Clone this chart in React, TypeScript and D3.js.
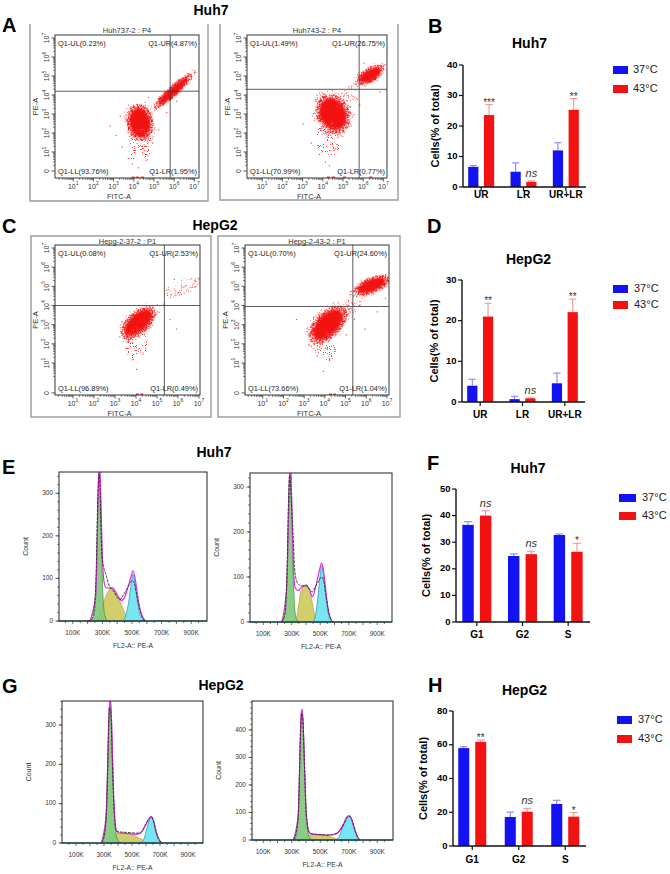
import React from 'react'
import * as d3 from 'd3'

const FONT = "Arial, 'Liberation Sans', Helvetica, sans-serif"
const BLUE = '#1212f2'
const RED = '#f21212'
const BLUE_ERR = '#7a7af5'
const RED_ERR = '#f58a8a'

// bar charts (percent of total cells, mean and upper SD)
const temps = ['37°C', '43°C']
const apoCats = ['UR', 'LR', 'UR+LR']
const cycleCats = ['G1', 'G2', 'S']

const huh7Apo37 = [6.6, 5.0, 12.0]
const huh7Apo37Err = [0.4, 2.9, 2.5]
const huh7Apo43 = [23.6, 1.7, 25.3]
const huh7Apo43Err = [3.4, 0.3, 3.7]
const huh7ApoMarks = ['***', 'ns', '**']

const hepApo37 = [4.0, 0.7, 4.6]
const hepApo37Err = [1.6, 0.7, 2.5]
const hepApo43 = [21.0, 0.9, 22.1]
const hepApo43Err = [3.3, 0.1, 3.2]
const hepApoMarks = ['**', 'ns', '**']

const huh7Cyc37 = [36.5, 24.8, 32.7]
const huh7Cyc37Err = [1.2, 0.8, 0.4]
const huh7Cyc43 = [40.0, 25.5, 26.4]
const huh7Cyc43Err = [1.8, 1.1, 3.2]
const huh7CycMarks = ['ns', 'ns', '*']

const hepCyc37 = [58.0, 17.2, 24.9]
const hepCyc37Err = [0.8, 2.9, 2.2]
const hepCyc43 = [61.7, 20.3, 17.4]
const hepCyc43Err = [1.1, 2.0, 2.4]
const hepCycMarks = ['**', 'ns', '*']

// flow cytometry: quadrant percentages UL, UR, LL, LR
const huh7FlowTitles = ['Huh737-2 : P4', 'Huh743-2 : P4']
const huh7Quad37 = ['0.23', '4.87', '93.76', '1.95']
const huh7Quad43 = ['1.49', '26.75', '70.99', '0.77']
const hepFlowTitles = ['Hepg-2-37-2 : P1', 'Hepg-2-43-2 : P1']
const hepQuad37 = ['0.08', '2.53', '96.89', '0.49']
const hepQuad43 = ['0.70', '24.60', '73.66', '1.04']

// event clouds in decades: [fitc, pe, spreadX, spreadY, tilt, density]
const huh7Cloud37 = [
  [4.3, 2.55, 0.6, 0.9, -10, 1],
  [5.95, 4.2, 1.15, 0.25, -42, 0.75],
  [4.3, 1.3, 0.45, 0.7, 0, 0.3],
]
const huh7Cloud43 = [
  [4.5, 3.0, 0.75, 1.0, -25, 1],
  [6.35, 5.05, 0.7, 0.35, -30, 0.95],
  [5.4, 4.0, 0.7, 0.3, -45, 0.3],
  [4.3, 1.7, 0.45, 0.7, 0, 0.3],
]
const hepCloud37 = [
  [4.1, 3.1, 0.95, 0.52, -42, 1],
  [6.2, 4.95, 0.75, 0.3, -25, 0.35],
  [4.0, 2.0, 0.4, 0.7, 0, 0.3],
]
const hepCloud43 = [
  [4.15, 3.0, 1.05, 0.62, -45, 1],
  [6.25, 5.05, 0.85, 0.37, -22, 1],
  [5.3, 4.0, 0.6, 0.3, -40, 0.35],
  [4.0, 1.8, 0.4, 0.6, 0, 0.3],
]
// scattered single events
const huh7Dots37 = [[2.8, 2.4], [3.1, 1.9], [3.4, 1.3], [3.7, 0.7], [3.9, 0.4], [4.6, 0.9], [4.9, 1.5], [5.2, 2.2], [5.6, 3.1], [6.1, 3.7], [3.3, 2.9], [4.2, 0.2], [7.0, 5.3], [4.7, 3.9]]
const huh7Dots43 = [[3.0, 2.5], [3.4, 1.5], [3.8, 0.9], [4.1, 0.5], [4.6, 1.2], [5.0, 2.1], [5.5, 3.0], [5.8, 3.5], [5.6, 4.3], [6.8, 4.2], [7.0, 5.6], [3.6, 3.7], [4.3, 0.3], [6.0, 5.7]]
const hepDots37 = [[3.2, 2.4], [3.5, 1.8], [3.8, 1.2], [4.0, 0.7], [4.3, 1.5], [5.0, 3.7], [5.3, 4.1], [5.6, 3.3], [5.9, 2.8], [6.8, 5.3], [5.8, 5.4], [3.3, 3.2]]
const hepDots43 = [[2.6, 3.3], [3.2, 2.0], [3.6, 1.4], [3.9, 0.6], [4.2, 1.2], [5.0, 2.5], [5.4, 3.3], [5.9, 2.8], [6.5, 3.7], [6.9, 4.4], [7.0, 5.5], [5.2, 4.6]]

// DNA content histograms: [FL2-A in K, count]
const huh7G1_37 = [[215, 0], [240, 10], [255, 60], [265, 170], [272, 300], [280, 370], [288, 300], [296, 150], [305, 50], [318, 12], [335, 0]]
const huh7S_37 = [[255, 0], [290, 25], [320, 55], [350, 75], [370, 78], [395, 65], [420, 45], [450, 20], [480, 5], [500, 0]]
const huh7G2_37 = [[440, 0], [460, 15], [480, 50], [495, 90], [507, 110], [520, 90], [535, 50], [550, 20], [570, 5], [585, 0]]
const huh7Fit37 = [[215, 0], [255, 62], [272, 305], [280, 372], [290, 280], [300, 150], [312, 90], [325, 78], [345, 77], [365, 78], [390, 68], [410, 56], [430, 48], [450, 56], [470, 76], [490, 100], [507, 118], [525, 92], [540, 55], [560, 20], [580, 5], [590, 0]]
const huh7Raw37 = [[200, 0], [225, 3], [245, 30], [258, 120], [268, 280], [276, 345], [283, 320], [290, 220], [298, 150], [310, 125], [325, 108], [340, 88], [360, 76], [380, 68], [400, 55], [420, 50], [440, 60], [460, 72], [480, 85], [500, 95], [515, 90], [530, 65], [550, 30], [570, 8], [590, 0]]

const huh7G1_43 = [[230, 0], [250, 15], [265, 80], [278, 230], [287, 340], [295, 340], [303, 220], [312, 90], [322, 25], [335, 5], [350, 0]]
const huh7S_43 = [[330, 0], [345, 30], [360, 62], [380, 78], [400, 82], [420, 75], [440, 50], [455, 25], [470, 5], [480, 0]]
const huh7G2_43 = [[450, 0], [470, 20], [485, 60], [500, 105], [510, 125], [522, 105], [538, 60], [555, 20], [570, 5], [585, 0]]
const huh7Fit43 = [[230, 0], [265, 80], [287, 345], [300, 260], [312, 120], [325, 75], [345, 70], [370, 78], [400, 82], [425, 72], [445, 56], [462, 70], [480, 95], [498, 120], [510, 131], [525, 110], [542, 60], [560, 20], [585, 0]]
const huh7Raw43 = [[225, 0], [250, 15], [265, 90], [278, 280], [285, 325], [292, 300], [300, 250], [310, 190], [320, 120], [335, 90], [355, 82], [380, 80], [405, 80], [425, 72], [445, 67], [465, 78], [490, 92], [510, 100], [525, 90], [540, 60], [555, 30], [570, 10], [590, 0]]

const hepG1_37 = [[280, 0], [300, 15], [315, 70], [328, 220], [338, 340], [345, 365], [352, 330], [360, 220], [370, 100], [382, 35], [395, 10], [420, 0]]
const hepS_37 = [[330, 0], [360, 18], [390, 24], [430, 25], [470, 24], [510, 20], [550, 13], [590, 5], [620, 0]]
const hepG2_37 = [[560, 0], [585, 10], [605, 35], [625, 60], [637, 66], [650, 58], [668, 30], [690, 8], [710, 0]]
const hepFit37 = [[280, 0], [315, 70], [338, 345], [345, 368], [355, 300], [370, 110], [385, 35], [400, 26], [440, 25], [480, 24], [520, 22], [560, 25], [590, 40], [615, 58], [637, 68], [655, 55], [675, 25], [700, 5], [715, 0]]
const hepRaw37 = [[285, 0], [310, 40], [325, 160], [333, 300], [340, 345], [350, 320], [360, 200], [375, 70], [390, 30], [420, 28], [460, 27], [500, 26], [540, 25], [570, 30], [600, 50], [625, 62], [640, 66], [655, 55], [675, 25], [700, 5], [715, 0]]

const hepG1_43 = [[310, 0], [330, 15], [345, 90], [358, 300], [366, 450], [372, 473], [380, 420], [390, 250], [400, 100], [412, 35], [425, 10], [445, 0]]
const hepS_43 = [[360, 0], [400, 12], [430, 18], [470, 19], [510, 18], [550, 15], [590, 8], [620, 3], [640, 0]]
const hepG2_43 = [[610, 0], [635, 15], [660, 50], [685, 80], [702, 87], [720, 75], [740, 40], [760, 12], [780, 0]]
const hepFit43 = [[310, 0], [345, 90], [366, 455], [373, 476], [385, 350], [400, 110], [415, 40], [430, 22], [470, 20], [520, 18], [560, 18], [600, 20], [630, 30], [660, 55], [685, 82], [702, 89], [720, 75], [740, 40], [760, 12], [780, 0]]
const hepRaw43 = [[315, 0], [345, 80], [362, 400], [370, 460], [378, 440], [390, 260], [405, 80], [420, 30], [450, 22], [500, 20], [550, 18], [600, 22], [640, 35], [670, 62], [695, 84], [710, 85], [725, 70], [745, 35], [765, 8], [780, 0]]

const histTickLabels = [100, 300, 500, 700, 900]

type Box = { l: number; r: number; t: number; b: number }

function Sup({ x, y, exp, rotate }: { x: number; y: number; exp: number | string; rotate?: boolean }) {
  return (
    <text
      x={x}
      y={y}
      fontSize={7}
      fill="#333"
      textAnchor="middle"
      transform={rotate ? `rotate(-90 ${x} ${y})` : undefined}
      dominantBaseline="middle"
    >
      10
      <tspan fontSize={5} dy={-3}>
        {exp}
      </tspan>
    </text>
  )
}

function FlowPlot(props: {
  id: string
  frame: Box
  fullFrame: boolean
  box: Box
  xr: [number, number]
  yr: [number, number]
  zeroDec: number
  gate: [number, number]
  title: string
  quad: string[]
  clouds: number[][]
  dots: number[][]
  rug: number[]
}) {
  const { id, frame, fullFrame, box, xr, yr, zeroDec, gate, title, quad, clouds, dots, rug } = props
  const x = d3.scaleLinear().domain([0, 7]).range(xr)
  const y = d3.scaleLinear().domain([0, 7]).range(yr)
  const sx = (xr[1] - xr[0]) / 7
  const sy = (yr[0] - yr[1]) / 7
  const minor: number[] = []
  for (let d = 0; d < 7; d++) for (let m = 2; m <= 9; m++) minor.push(d + Math.log10(m))
  const decs = d3.range(1, 8)
  const qy = (box.t + box.b) / 2
  const cx = (box.l + box.r) / 2
  return (
    <g fontFamily={FONT}>
      <defs>
        <clipPath id={`clip-${id}`}>
          <rect x={box.l} y={box.t} width={box.r - box.l} height={box.b - box.t} />
        </clipPath>
      </defs>
      {fullFrame ? (
        <rect x={frame.l} y={frame.t} width={frame.r - frame.l} height={frame.b - frame.t} fill="none" stroke="#9a9a9a" strokeWidth={1.4} />
      ) : (
        <path d={`M${frame.l},${frame.t}V${frame.b}H${frame.r}V${frame.t}`} fill="none" stroke="#9a9a9a" strokeWidth={1.4} />
      )}
      <text x={cx} y={frame.t + (fullFrame ? 8 : 9)} fontSize={7.5} fill="#333" textAnchor="middle">
        {title}
      </text>
      <g clipPath={`url(#clip-${id})`}>
        {clouds.map((c, i) => {
          const px = x(c[0])
          const py = y(c[1])
          const rx = c[2] * sx
          const ry = c[3] * sy
          const tr = `rotate(${c[4]} ${px} ${py})`
          return (
            <g key={i} transform={tr}>
              <ellipse cx={px} cy={py} rx={rx * 1.35} ry={ry * 1.35} fill={RED} filter="url(#grainSparse)" />
              {c[5] >= 0.4 && <ellipse cx={px} cy={py} rx={rx * 1.1} ry={ry * 1.1} fill={RED} filter="url(#grain)" />}
              {c[5] >= 0.7 && <ellipse cx={px} cy={py} rx={rx * 0.85} ry={ry * 0.85} fill={RED} filter="url(#soft)" />}
            </g>
          )
        })}
        {dots.map((d, i) => (
          <rect key={i} x={x(d[0])} y={y(d[1])} width={1.2} height={1.2} fill="#ff4a4a" />
        ))}
        {rug.map((r, i) => (
          <rect key={i} x={x(r)} y={box.b - 1.5} width={3} height={1.5} fill={RED} opacity={0.8} />
        ))}
      </g>
      <rect x={box.l} y={box.t} width={box.r - box.l} height={box.b - box.t} fill="none" stroke="#222" strokeWidth={0.9} />
      <line x1={x(gate[0])} x2={x(gate[0])} y1={box.t} y2={box.b} stroke="#333" strokeWidth={0.8} />
      <line x1={box.l} x2={box.r} y1={y(gate[1])} y2={y(gate[1])} stroke="#333" strokeWidth={0.8} />
      {minor.filter(d => x(d) > box.l && x(d) < box.r).map((d, i) => (
        <line key={`mx${i}`} x1={x(d)} x2={x(d)} y1={box.b} y2={box.b + 2} stroke="#333" strokeWidth={0.6} />
      ))}
      {decs.map(d => (
        <line key={`Mx${d}`} x1={x(d)} x2={x(d)} y1={box.b} y2={box.b + 3.5} stroke="#333" strokeWidth={0.8} />
      ))}
      {minor.filter(d => y(d) < box.b && y(d) > box.t).map((d, i) => (
        <line key={`my${i}`} x1={box.l - 2} x2={box.l} y1={y(d)} y2={y(d)} stroke="#333" strokeWidth={0.6} />
      ))}
      {[zeroDec, ...decs].map(d => (
        <line key={`My${d}`} x1={box.l - 3.5} x2={box.l} y1={y(d)} y2={y(d)} stroke="#333" strokeWidth={0.8} />
      ))}
      {decs.map(d => (
        <Sup key={`lx${d}`} x={x(d)} y={box.b + 9} exp={d} />
      ))}
      {decs.map(d => (
        <Sup key={`ly${d}`} x={box.l - 7.5} y={y(d)} exp={d} rotate />
      ))}
      <text x={box.l - 7.5} y={y(zeroDec)} fontSize={7} fill="#333" textAnchor="middle" dominantBaseline="middle" transform={`rotate(-90 ${box.l - 7.5} ${y(zeroDec)})`}>
        0
      </text>
      <text x={cx - 8} y={box.b + 21} fontSize={7.5} fill="#333" textAnchor="middle">
        FITC-A
      </text>
      <text x={box.l - 17} y={qy} fontSize={7.5} fill="#333" textAnchor="middle" transform={`rotate(-90 ${box.l - 17} ${qy})`}>
        PE-A
      </text>
      <g fontSize={7.4} fill="#222">
        <text x={box.l + 3} y={box.t + 11}>{`Q1-UL(${quad[0]}%)`}</text>
        <text x={box.r - 2} y={box.t + 11} textAnchor="end">{`Q1-UR(${quad[1]}%)`}</text>
        <text x={box.l + 3} y={box.b - 4}>{`Q1-LL(${quad[2]}%)`}</text>
        <text x={box.r - 2} y={box.b - 4} textAnchor="end">{`Q1-LR(${quad[3]}%)`}</text>
      </g>
    </g>
  )
}

function HistPlot(props: {
  id: string
  box: Box
  xr: [number, number]
  yMax: number
  yTicks: number[]
  g1: number[][]
  s: number[][]
  g2: number[][]
  fit: number[][]
  raw: number[][]
}) {
  const { id, box, xr, yMax, yTicks, g1, s, g2, fit, raw } = props
  const x = d3.scaleLinear().domain([0, 1000]).range(xr)
  const y = d3.scaleLinear().domain([0, yMax]).range([box.b, box.t])
  const area = d3
    .area<number[]>()
    .x(d => x(d[0]))
    .y0(y(0))
    .y1(d => y(d[1]))
    .curve(d3.curveMonotoneX)
  const line = d3
    .line<number[]>()
    .x(d => x(d[0]))
    .y(d => y(d[1]))
    .curve(d3.curveMonotoneX)
  const xt = d3.range(50, 1000, 50).filter(v => x(v) > box.l && x(v) < box.r)
  const yMinor = d3.range(0, yMax, 20)
  const cy = (box.t + box.b) / 2
  return (
    <g fontFamily={FONT}>
      <defs>
        <clipPath id={`clip-${id}`}>
          <rect x={box.l} y={box.t} width={box.r - box.l} height={box.b - box.t + 1} />
        </clipPath>
      </defs>
      <g clipPath={`url(#clip-${id})`}>
        <path d={area(s) ?? ''} fill="#d3cd6c" stroke="#b4a83c" strokeWidth={0.7} />
        <path d={area(g2) ?? ''} fill="#78e6ef" stroke="#3597c4" strokeWidth={0.8} />
        <path d={area(g1) ?? ''} fill="#82c97c" fillOpacity={0.92} stroke="#3f9a3a" strokeWidth={0.8} />
        <line x1={box.l} x2={box.r} y1={y(0)} y2={y(0)} stroke="#2d8f8a" strokeWidth={1.3} />
        <path d={line(fit) ?? ''} fill="none" stroke="#e02ee0" strokeWidth={1.2} />
        <path d={line(raw) ?? ''} fill="none" stroke="#222" strokeWidth={0.8} strokeDasharray="3 1" />
      </g>
      <rect x={box.l} y={box.t} width={box.r - box.l} height={box.b - box.t} fill="none" stroke="#222" strokeWidth={1} />
      {xt.map(v => (
        <line key={`x${v}`} x1={x(v)} x2={x(v)} y1={box.b} y2={box.b + (v % 100 === 0 ? 3 : 2)} stroke="#333" strokeWidth={0.7} />
      ))}
      {histTickLabels.map(v => (
        <text key={`xl${v}`} x={x(v)} y={box.b + 14} fontSize={6.5} fill="#333" textAnchor="middle">
          {`${v}K`}
        </text>
      ))}
      {yMinor.map(v => (
        <line key={`ym${v}`} x1={box.l - 2} x2={box.l} y1={y(v)} y2={y(v)} stroke="#333" strokeWidth={0.6} />
      ))}
      {yTicks.map(v => (
        <g key={`y${v}`}>
          <line x1={box.l - 3.5} x2={box.l} y1={y(v)} y2={y(v)} stroke="#333" strokeWidth={0.8} />
          <text x={box.l - 6} y={y(v)} fontSize={6.5} fill="#333" textAnchor="end" dominantBaseline="middle">
            {v}
          </text>
        </g>
      ))}
      <text x={box.l - 31} y={cy} fontSize={7} fill="#333" textAnchor="middle" transform={`rotate(-90 ${box.l - 31} ${cy})`}>
        Count
      </text>
      <text x={(box.l + box.r) / 2} y={box.b + 27} fontSize={6.8} fill="#333" textAnchor="middle">
        FL2-A:: PE-A
      </text>
    </g>
  )
}

function BarPanel(props: {
  axisL: number
  axisR: number
  band: [number, number]
  y0: number
  yTop: number
  yMax: number
  yTicks: number[]
  groupW: number
  cats: string[]
  a: number[]
  aErr: number[]
  b: number[]
  bErr: number[]
  marks: string[]
  title: string
  titleY: number
  labelX: number
  legend: { x: number; y1: number; y2: number; w: number; tx: number }
  catY: number
}) {
  const p = props
  const x = d3.scaleBand<string>().domain(p.cats).range(p.band).padding(0)
  const bw = x.bandwidth()
  const sub = d3
    .scaleBand<string>()
    .domain(temps)
    .range([(bw - p.groupW) / 2, (bw + p.groupW) / 2])
    .paddingInner(0.35)
  const y = d3.scaleLinear().domain([0, p.yMax]).range([p.y0, p.yTop])
  const w = sub.bandwidth()
  const series = [
    { vals: p.a, errs: p.aErr, key: temps[0], fill: BLUE, err: BLUE_ERR },
    { vals: p.b, errs: p.bErr, key: temps[1], fill: RED, err: RED_ERR },
  ]
  const midY = (p.y0 + p.yTop) / 2
  return (
    <g fontFamily={FONT}>
      <text x={(p.axisL + p.axisR) / 2 + 5} y={p.titleY} fontSize={14} fontWeight="bold" textAnchor="middle">
        {p.title}
      </text>
      {series.map(s =>
        p.cats.map((c, i) => {
          const bx = (x(c) ?? 0) + (sub(s.key) ?? 0)
          const top = y(s.vals[i])
          const et = y(s.vals[i] + s.errs[i])
          const mx = bx + w / 2
          return (
            <g key={`${s.key}${c}`}>
              <line x1={mx} x2={mx} y1={top} y2={et} stroke={s.err} strokeWidth={1} />
              <line x1={mx - w * 0.35} x2={mx + w * 0.35} y1={et} y2={et} stroke={s.err} strokeWidth={1} />
              <rect x={bx} y={top} width={w} height={p.y0 - top} fill={s.fill} />
            </g>
          )
        })
      )}
      {p.cats.map((c, i) => {
        const mx = (x(c) ?? 0) + (sub(temps[1]) ?? 0) + w / 2
        const et = y(p.b[i] + p.bErr[i])
        const m = p.marks[i]
        return m === 'ns' ? (
          <text key={`m${c}`} x={mx} y={et - 4} fontSize={11} fontStyle="italic" fill="#333" textAnchor="middle">
            ns
          </text>
        ) : (
          <text key={`m${c}`} x={mx} y={et + 1} fontSize={10} fill="#333" textAnchor="middle">
            {m}
          </text>
        )
      })}
      <line x1={p.axisL} x2={p.axisL} y1={p.yTop} y2={p.y0} stroke="#111" strokeWidth={1.4} />
      <line x1={p.axisL} x2={p.axisR} y1={p.y0} y2={p.y0} stroke="#111" strokeWidth={1.4} />
      {p.yTicks.map(v => (
        <g key={`t${v}`}>
          <line x1={p.axisL - 4} x2={p.axisL} y1={y(v)} y2={y(v)} stroke="#111" strokeWidth={1.2} />
          <text x={p.axisL - 5.5} y={y(v)} fontSize={9.5} fontWeight="bold" textAnchor="end" dominantBaseline="middle">
            {v}
          </text>
        </g>
      ))}
      {p.cats.map(c => {
        const cx = (x(c) ?? 0) + bw / 2
        return (
          <g key={`c${c}`}>
            <line x1={cx} x2={cx} y1={p.y0} y2={p.y0 + 4} stroke="#111" strokeWidth={1.2} />
            <text x={cx} y={p.catY} fontSize={10} fontWeight="bold" textAnchor="middle">
              {c}
            </text>
          </g>
        )
      })}
      <text x={p.labelX} y={midY} fontSize={11} fontWeight="bold" textAnchor="middle" dominantBaseline="middle" transform={`rotate(-90 ${p.labelX} ${midY})`}>
        Cells(% of total)
      </text>
      {temps.map((t, i) => {
        const ly = i === 0 ? p.legend.y1 : p.legend.y2
        return (
          <g key={t}>
            <rect x={p.legend.x} y={ly - 4} width={p.legend.w} height={8} fill={i === 0 ? BLUE : RED} />
            <text x={p.legend.tx} y={ly} fontSize={11} fill="#222" dominantBaseline="middle">
              {t}
            </text>
          </g>
        )
      })}
    </g>
  )
}

function Letter({ x, y, t }: { x: number; y: number; t: string }) {
  return (
    <text x={x} y={y} fontFamily={FONT} fontSize={20} fontWeight="bold">
      {t}
    </text>
  )
}

function Heading({ x, y, t }: { x: number; y: number; t: string }) {
  return (
    <text x={x} y={y} fontFamily={FONT} fontSize={14} fontWeight="bold" textAnchor="middle">
      {t}
    </text>
  )
}

export default function App() {
  return (
    <svg width={670} height={874} style={{ position: 'absolute', left: 0, top: 0, background: '#fff' }}>
      <defs>
        <filter id="soft" x="-30%" y="-30%" width="160%" height="160%" colorInterpolationFilters="sRGB">
          <feGaussianBlur stdDeviation={1.2} />
        </filter>
        <filter id="grain" x="-20%" y="-20%" width="140%" height="140%" colorInterpolationFilters="sRGB">
          <feTurbulence type="fractalNoise" baseFrequency={0.85} numOctaves={1} seed={4} result="noise" />
          <feColorMatrix in="noise" type="matrix" values="0 0 0 0 0  0 0 0 0 0  0 0 0 0 0  25 0 0 0 -12" result="mask" />
          <feFlood floodColor="#f51a1a" result="ink" />
          <feComposite in="ink" in2="mask" operator="in" result="dots" />
          <feComposite in="dots" in2="SourceAlpha" operator="in" />
        </filter>
        <filter id="grainSparse" x="-20%" y="-20%" width="140%" height="140%" colorInterpolationFilters="sRGB">
          <feTurbulence type="fractalNoise" baseFrequency={0.95} numOctaves={1} seed={11} result="noise" />
          <feColorMatrix in="noise" type="matrix" values="0 0 0 0 0  0 0 0 0 0  0 0 0 0 0  30 0 0 0 -19" result="mask" />
          <feFlood floodColor="#ff4040" result="ink" />
          <feComposite in="ink" in2="mask" operator="in" result="dots" />
          <feComposite in="dots" in2="SourceAlpha" operator="in" />
        </filter>
      </defs>
      <rect width={670} height={874} fill="#fff" />

      {/* A: Huh7 annexin V / PI */}
      <Letter x={2} y={32} t="A" />
      <Heading x={211} y={15} t="Huh7" />
      <FlowPlot id="a1" frame={{ l: 30, r: 208, t: 24, b: 201 }} fullFrame={false} box={{ l: 55, r: 199, t: 35, b: 178 }} xr={[53, 194.4]} yr={[171, 38]} zeroDec={0} gate={[5.8, 4.2]} title={huh7FlowTitles[0]} quad={huh7Quad37} clouds={huh7Cloud37} dots={huh7Dots37} rug={[3.9, 4.1, 4.35]} />
      <FlowPlot id="a2" frame={{ l: 220, r: 398, t: 24, b: 200 }} fullFrame={false} box={{ l: 247, r: 387, t: 35, b: 178 }} xr={[242, 383.4]} yr={[171, 38]} zeroDec={0} gate={[5.8, 4.3]} title={huh7FlowTitles[1]} quad={huh7Quad43} clouds={huh7Cloud43} dots={huh7Dots43} rug={[4.2, 4.45, 5.0, 6.3]} />

      {/* C: HepG2 annexin V / PI */}
      <Letter x={2} y={233} t="C" />
      <Heading x={215} y={230} t="HepG2" />
      <FlowPlot id="c1" frame={{ l: 31, r: 211, t: 236, b: 417 }} fullFrame box={{ l: 55, r: 200, t: 245, b: 395 }} xr={[52, 199]} yr={[382.2, 248]} zeroDec={-0.56} gate={[5.35, 4]} title={hepFlowTitles[0]} quad={hepQuad37} clouds={hepCloud37} dots={hepDots37} rug={[4.0, 4.2]} />
      <FlowPlot id="c2" frame={{ l: 218, r: 400, t: 236, b: 417 }} fullFrame box={{ l: 245, r: 389, t: 245, b: 395 }} xr={[242, 387]} yr={[382.2, 248]} zeroDec={-0.56} gate={[5.35, 3.95]} title={hepFlowTitles[1]} quad={hepQuad43} clouds={hepCloud43} dots={hepDots43} rug={[4.2, 4.4]} />

      {/* E / G: cell cycle histograms */}
      <Letter x={2} y={474} t="E" />
      <Heading x={214} y={457} t="Huh7" />
      <HistPlot id="e1" box={{ l: 59, r: 207, t: 472, b: 621 }} xr={[58, 206]} yMax={350} yTicks={[0, 100, 200, 300]} g1={huh7G1_37} s={huh7S_37} g2={huh7G2_37} fit={huh7Fit37} raw={huh7Raw37} />
      <HistPlot id="e2" box={{ l: 250, r: 392, t: 473, b: 622 }} xr={[249, 391.5]} yMax={331} yTicks={[0, 100, 200, 300]} g1={huh7G1_43} s={huh7S_43} g2={huh7G2_43} fit={huh7Fit43} raw={huh7Raw43} />

      <Letter x={2} y={693} t="G" />
      <Heading x={221} y={690} t="HepG2" />
      <HistPlot id="g1" box={{ l: 62, r: 203, t: 701, b: 843 }} xr={[62, 202]} yMax={361} yTicks={[0, 100, 200, 300]} g1={hepG1_37} s={hepS_37} g2={hepG2_37} fit={hepFit37} raw={hepRaw37} />
      <HistPlot id="g2" box={{ l: 252, r: 393, t: 701, b: 840 }} xr={[249, 391.5]} yMax={505} yTicks={[0, 100, 200, 300, 400]} g1={hepG1_43} s={hepS_43} g2={hepG2_43} fit={hepFit43} raw={hepRaw43} />

      {/* B, D, F, H: bar charts */}
      <Letter x={428} y={33} t="B" />
      <BarPanel axisL={463} axisR={586} band={[460, 587]} y0={187} yTop={65} yMax={40} yTicks={[0, 10, 20, 30, 40]} groupW={26} cats={apoCats} a={huh7Apo37} aErr={huh7Apo37Err} b={huh7Apo43} bErr={huh7Apo43Err} marks={huh7ApoMarks} title="Huh7" titleY={48} labelX={436} legend={{ x: 613, y1: 70, y2: 89, w: 15, tx: 633 }} catY={198} />

      <Letter x={427} y={233} t="D" />
      <BarPanel axisL={462} axisR={585} band={[459, 586]} y0={402} yTop={280} yMax={30} yTicks={[0, 10, 20, 30]} groupW={26} cats={apoCats} a={hepApo37} aErr={hepApo37Err} b={hepApo43} bErr={hepApo43Err} marks={hepApoMarks} title="HepG2" titleY={264} labelX={435} legend={{ x: 613, y1: 289, y2: 305, w: 15, tx: 634 }} catY={418} />

      <Letter x={427} y={470} t="F" />
      <BarPanel axisL={456} axisR={590} band={[454, 591]} y0={622} yTop={489} yMax={50} yTicks={[0, 10, 20, 30, 40, 50]} groupW={29} cats={cycleCats} a={huh7Cyc37} aErr={huh7Cyc37Err} b={huh7Cyc43} bErr={huh7Cyc43Err} marks={huh7CycMarks} title="Huh7" titleY={473} labelX={427} legend={{ x: 619, y1: 498, y2: 516, w: 17, tx: 642 }} catY={638} />

      <Letter x={428} y={692} t="H" />
      <BarPanel axisL={453} axisR={586} band={[449, 588.5]} y0={846} yTop={711} yMax={80} yTicks={[0, 20, 40, 60, 80]} groupW={28} cats={cycleCats} a={hepCyc37} aErr={hepCyc37Err} b={hepCyc43} bErr={hepCyc43Err} marks={hepCycMarks} title="HepG2" titleY={695} labelX={424} legend={{ x: 617, y1: 720, y2: 739, w: 15, tx: 638 }} catY={863} />
    </svg>
  )
}
